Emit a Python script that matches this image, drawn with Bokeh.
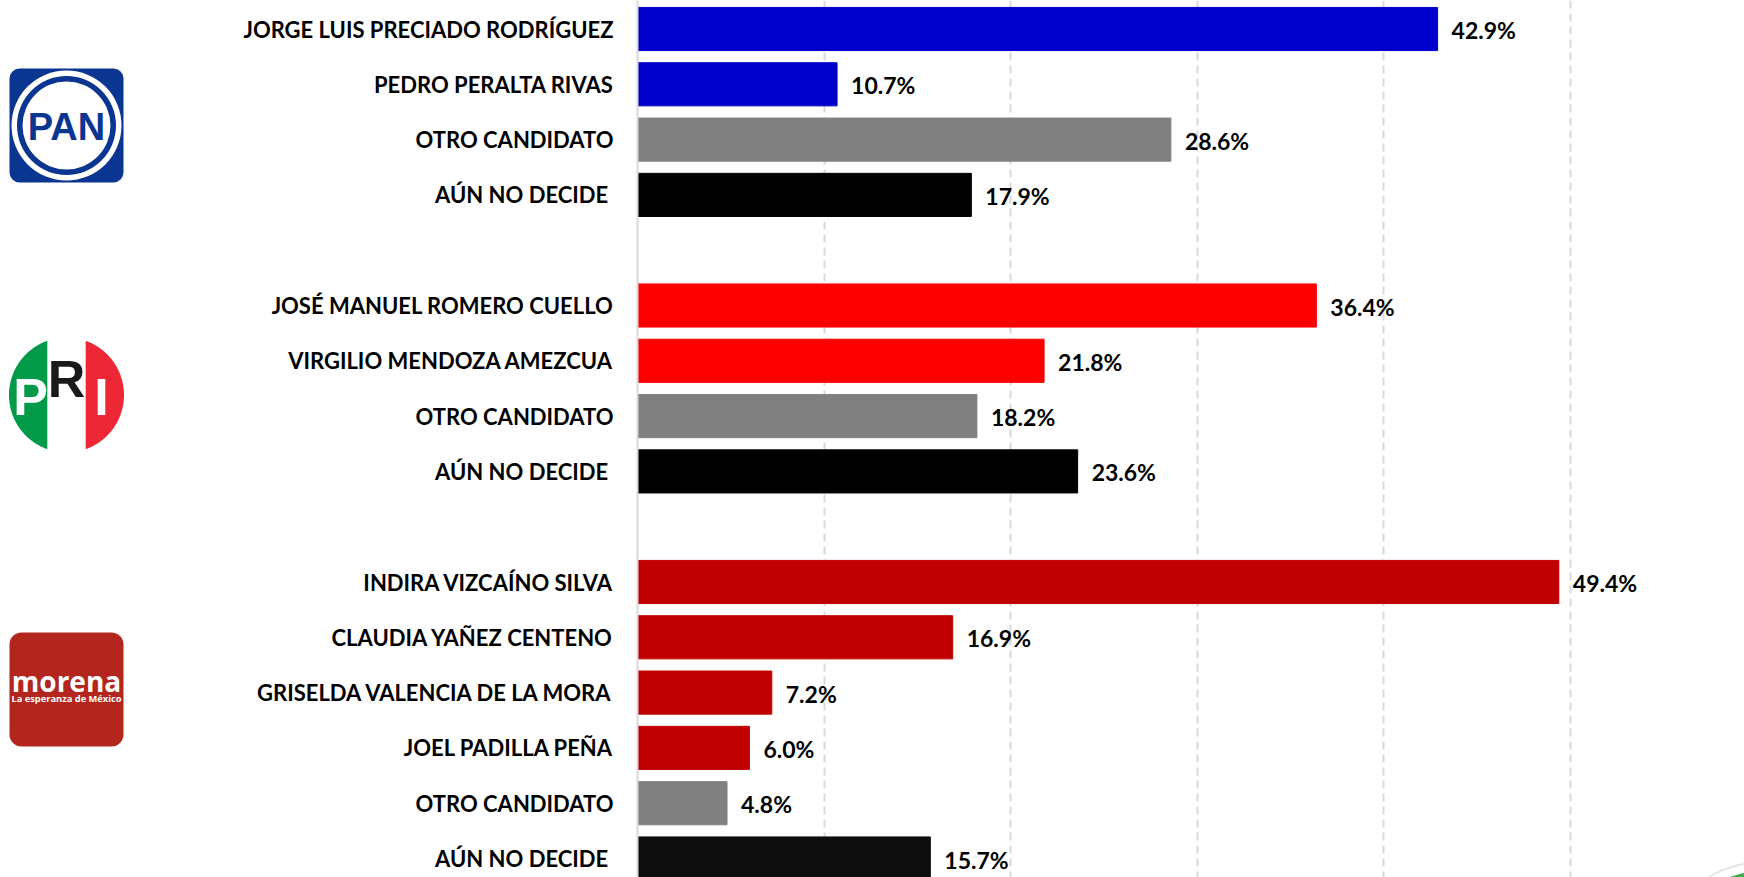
import numpy as np
from bokeh.embed import file_html
from bokeh.resources import INLINE
from bokeh.plotting import figure
from bokeh.layouts import row
from bokeh.models import ColumnDataSource, FixedTicker, Range1d
from bokeh.core.properties import value

OTRO = "OTRO CANDIDATO"
NODEC = "AÚN NO DECIDE\u00a0"
pan_names = ["JORGE LUIS PRECIADO RODRÍGUEZ", "PEDRO PERALTA RIVAS", OTRO, NODEC]
pan_values = [42.9, 10.7, 28.6, 17.9]
pan_colors = ["#0000CC", "#0000CC", "#808080", "#000000"]
pri_names = ["JOSÉ MANUEL ROMERO CUELLO", "VIRGILIO MENDOZA AMEZCUA", OTRO, NODEC]
pri_values = [36.4, 21.8, 18.2, 23.6]
pri_colors = ["#FF0000", "#FF0000", "#808080", "#000000"]
morena_names = ["INDIRA VIZCAÍNO SILVA", "CLAUDIA YAÑEZ CENTENO", "GRISELDA VALENCIA DE LA MORA",
                "JOEL PADILLA PEÑA", OTRO, NODEC]
morena_values = [49.4, 16.9, 7.2, 6.0, 4.8, 15.7]
morena_colors = ["#C00000", "#C00000", "#C00000", "#C00000", "#808080", "#0D0D0D"]
grid_ticks = [10, 20, 30, 40, 50]

names, vals, cols, rows_ = [], [], [], []
r = 0
for ns, vs, cs in [(pan_names, pan_values, pan_colors), (pri_names, pri_values, pri_colors),
                   (morena_names, morena_values, morena_colors)]:
    for n, v, c in zip(ns, vs, cs):
        names.append(n); vals.append(v); cols.append(c); rows_.append(r); r += 1
    r += 1  # blank row between parties

src = ColumnDataSource(dict(y=rows_, v=vals, c=cols, t=[f"{v:.1f}%" for v in vals]))

X0, PXU, Y0, PXR = 637.0, 18.65, 28.5, 55.3
W, H, LOGO_W = 1744, 877, 130

p = figure(width=W - LOGO_W, height=H, output_backend="svg", toolbar_location=None,
           min_border_left=int(X0 - LOGO_W), min_border_right=0, min_border_top=0, min_border_bottom=0,
           x_range=Range1d(0, (W - X0) / PXU),
           y_range=Range1d((H - Y0) / PXR, -Y0 / PXR),
           outline_line_color=None)
p.xaxis.visible = False
p.ygrid.visible = False
p.xgrid.ticker = FixedTicker(ticks=grid_ticks)
p.xgrid.grid_line_color = "#D9D9D9"
p.xgrid.grid_line_width = 2
p.xgrid.grid_line_dash = "8 5"

ax = p.yaxis[0]
ax.ticker = FixedTicker(ticks=rows_)
ax.major_label_overrides = {int(y): n for y, n in zip(rows_, names)}
ax.major_tick_line_color = None
ax.minor_tick_line_color = None
ax.axis_line_color = "#D9D9D9"
ax.axis_line_width = 2
ax.major_label_standoff = 18
ax.major_label_text_font = "Lato"
ax.major_label_text_font_style = "bold"
ax.major_label_text_font_size = "22px"
ax.major_label_text_color = "#000000"

p.hbar(y="y", left=0, right="v", height=0.78, color="c", source=src)
p.text(x="v", y="y", text="t", source=src, x_offset=14, y_offset=1,
       text_font=value("Lato"), text_font_style="bold", text_font_size="23px",
       text_color="#000000", text_align="left", text_baseline="middle")

# partially visible round logo in the lower right corner
cx, cy = (1760 - X0) / PXU, (961 - Y0) / PXR
p.scatter([cx], [cy], size=198, fill_color="#FFFFFF", line_color="#E6E6E6", line_width=2)
p.scatter([cx], [cy], size=180, fill_color="#3FAE49", line_color=None)

# ---- party logos, drawn in page pixels
g = figure(width=LOGO_W, height=H, output_backend="svg", toolbar_location=None,
           min_border=0, x_range=Range1d(0, LOGO_W), y_range=Range1d(H, 0), outline_line_color=None)
g.axis.visible = False
g.grid.visible = False

def txt(x, y, s, size, color, font="Liberation Sans", style="bold"):
    g.text([x], [y], text=[s], text_font=value(font), text_font_style=style, text_font_size=size,
           text_color=color, text_align="center", text_baseline="middle")

# PAN
PAN = "#0A3591"
g.quad(left=9, right=123, top=68, bottom=182, fill_color=PAN, line_color=None, border_radius=10)
for rad, col in [(55, "#FFFFFF"), (49.5, PAN), (44, "#FFFFFF")]:
    g.ellipse([66], [125], width=2 * rad, height=2 * rad, fill_color=col, line_color=None)
txt(66, 126, "PAN", "38px", PAN)

# PRI
t = np.linspace(0, 2 * np.pi, 721)
ox, oy, R = 66.0, 394.5, 57.5
px, py = ox + R * np.cos(t), oy + R * np.sin(t)
gm = px <= 47
g.patch(px[gm].tolist(), py[gm].tolist(), fill_color="#009A49", line_color=None)
rm = px >= 85
order = np.argsort(np.arctan2(py[rm] - oy, px[rm] - ox))
g.patch(px[rm][order].tolist(), py[rm][order].tolist(), fill_color="#EE2737", line_color=None)
txt(30, 396, "P", "52px", "#FFFFFF")
txt(66, 378, "R", "52px", "#1A1A1A")
txt(101, 396, "I", "52px", "#FFFFFF")

# morena
g.quad(left=9, right=123, top=632, bottom=746, fill_color="#B3261E", line_color=None, border_radius=12)
txt(66, 680, "morena", "28px", "#FFFFFF", font="Open Sans")
txt(66, 698, "La esperanza de México", "9.3px", "#FFFFFF", font="Open Sans")

page = row(g, p, spacing=0)
open("out.html", "w").write(file_html(page, INLINE))
